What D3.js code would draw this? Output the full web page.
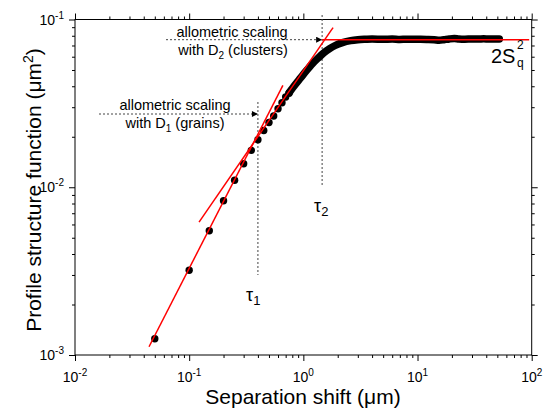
<!DOCTYPE html>
<html>
<head>
<meta charset="utf-8">
<script src="https://cdn.jsdelivr.net/npm/d3@7"></script>
<style>
  body { margin: 0; background: #fff; }
  text { font-family: "Liberation Sans", Arial, sans-serif; fill: #000; }
</style>
</head>
<body>
<div id="chart-area"></div>
<script>
// measured points (sparse dots)
var sepShift = [0.05, 0.10, 0.15, 0.20, 0.25, 0.30, 0.35, 0.40, 0.45, 0.50, 0.55, 0.60, 0.65, 0.70, 0.75];
var structFn = [0.00125, 0.0032, 0.0055, 0.0083, 0.0110, 0.0138, 0.0166, 0.0192, 0.0218, 0.0243, 0.0266, 0.0294, 0.0319, 0.0345, 0.0364];

// dense part (dots merge into a band)
var denseX = [0.75, 0.85, 0.95, 1.05, 1.2, 1.35, 1.5, 1.7, 1.9, 2.2, 2.6, 3.0, 3.5, 4, 5, 6, 7, 8, 10, 12, 14, 15.5, 17, 19, 21, 23, 26, 30, 34, 38, 42, 46, 50, 52];
var denseY = [0.0366, 0.041, 0.045, 0.049, 0.0545, 0.059, 0.063, 0.067, 0.0700, 0.0728, 0.0748, 0.0757, 0.0762, 0.0765, 0.0762, 0.0764, 0.0760, 0.0763, 0.0762, 0.0760, 0.0757, 0.0752, 0.0758, 0.0766, 0.0770, 0.0765, 0.0763, 0.0766, 0.0764, 0.0767, 0.0765, 0.0766, 0.0765, 0.0765];

// fitted red lines
var fit1X = [0.0445, 0.662], fit1Y = [0.00112, 0.0405];
var fit2X = [0.122, 1.82], fit2Y = [0.0062, 0.0895];
var fit3X = [1.46, 95], fit3Y = [0.0758, 0.0758];

var tau1 = 0.40, tau2 = 1.46;
var xDecades = [-2, -1, 0, 1, 2];
var yDecades = [-3, -2, -1];

var width = 544, height = 409;
var plotL = 75, plotR = 531.7, plotT = 19.5, plotB = 355;

var svg = d3.select("#chart-area").append("svg")
	.attr("width", width)
	.attr("height", height);

var x = d3.scaleLog().domain([0.01, 100]).range([plotL, plotR]);
var y = d3.scaleLog().domain([0.001, 0.1]).range([plotB, plotT]);

svg.append("defs").append("marker")
	.attr("id", "arr")
	.attr("viewBox", "0 0 10 10")
	.attr("refX", 10).attr("refY", 5)
	.attr("markerWidth", 10).attr("markerHeight", 6)
	.attr("markerUnits", "userSpaceOnUse")
	.attr("orient", "auto")
	.append("path").attr("d", "M0,0 L10,5 L0,10 z").attr("fill", "#000");

// minor + major ticks
var minorX = [], minorY = [];
xDecades.slice(0, -1).forEach((e) => { for (var k = 2; k < 10; k++) minorX.push(k * Math.pow(10, e)); });
yDecades.slice(0, -1).forEach((e) => { for (var k = 2; k < 10; k++) minorY.push(k * Math.pow(10, e)); });
var majorX = xDecades.map((e) => Math.pow(10, e));
var majorY = yDecades.map((e) => Math.pow(10, e));

function axisG(axis, tr) {
	var g = svg.append("g").attr("transform", tr).call(axis);
	g.select(".domain").remove();
	g.selectAll("line").attr("stroke", "#000");
	return g;
}
[[d3.axisBottom, "translate(0," + plotB + ")", x, minorX, majorX],
 [d3.axisTop, "translate(0," + plotT + ")", x, minorX, majorX],
 [d3.axisLeft, "translate(" + plotL + ",0)", y, minorY, majorY],
 [d3.axisRight, "translate(" + plotR + ",0)", y, minorY, majorY]].forEach((a) => {
	axisG(a[0](a[2]).tickValues(a[3]).tickSize(3).tickFormat(""), a[1]);
	axisG(a[0](a[2]).tickValues(a[4]).tickSize(6).tickFormat(""), a[1]);
});

svg.append("rect")
	.attr("x", plotL).attr("y", plotT)
	.attr("width", plotR - plotL).attr("height", plotB - plotT)
	.attr("fill", "none").attr("stroke", "#000").attr("stroke-width", 1);

// tick labels
xDecades.forEach((e) => {
	var t = svg.append("text")
		.attr("x", x(Math.pow(10, e))).attr("y", 382)
		.attr("text-anchor", "middle").attr("font-size", "14px");
	t.append("tspan").text("10");
	t.append("tspan").attr("dy", -6).attr("font-size", "10px").text(e);
});
yDecades.forEach((e) => {
	var t = svg.append("text")
		.attr("x", 64).attr("y", y(Math.pow(10, e)) + 5)
		.attr("text-anchor", "end").attr("font-size", "14px");
	t.append("tspan").text("10");
	t.append("tspan").attr("dy", -6).attr("font-size", "10px").text(e);
});

// axis titles
svg.append("text")
	.attr("x", 303).attr("y", 404)
	.attr("text-anchor", "middle").attr("font-size", "21px")
	.text("Separation shift (\u03bcm)");

var yl = svg.append("text")
	.attr("transform", "translate(41,190) rotate(-90)")
	.attr("text-anchor", "middle").attr("font-size", "21px");
yl.append("tspan").text("Profile structure function (\u03bcm");
yl.append("tspan").attr("dy", -8).attr("font-size", "14px").text("2");
yl.append("tspan").attr("dy", 8).text(")");

// dashed guides
function dashed(x1, y1, x2, y2, arrow) {
	var l = svg.append("line")
		.attr("x1", x1).attr("y1", y1).attr("x2", x2).attr("y2", y2)
		.attr("stroke", "#444").attr("stroke-width", 1)
		.attr("stroke-dasharray", "2,2");
	if (arrow) l.attr("marker-end", "url(#arr)");
}
dashed(x(tau1), 102, x(tau1), 275, false);
dashed(x(tau2), 15, x(tau2), 185, false);
dashed(99, 114, x(tau1), 114, true);
dashed(166, y(fit3Y[0]), x(tau2), y(fit3Y[0]), true);

// data band + dots
var line = d3.line()
	.x((d) => x(d[0]))
	.y((d) => y(d[1]))
	.curve(d3.curveMonotoneX);

svg.append("path")
	.datum(denseX.map((d, i) => [d, denseY[i]]))
	.attr("d", line)
	.attr("fill", "none").attr("stroke", "#000")
	.attr("stroke-width", 7.5)
	.attr("stroke-linecap", "round").attr("stroke-linejoin", "round");

svg.selectAll("circle.pt").data(sepShift).enter()
	.append("circle")
	.attr("class", "pt")
	.attr("cx", (d) => x(d))
	.attr("cy", (d, i) => y(structFn[i]))
	.attr("r", 3.7)
	.attr("fill", "#000");

// red fits
[[fit1X, fit1Y], [fit2X, fit2Y], [fit3X, fit3Y]].forEach((f) => {
	svg.append("path")
		.datum(f[0].map((d, i) => [d, f[1][i]]))
		.attr("d", d3.line().x((d) => x(d[0])).y((d) => y(d[1])))
		.attr("fill", "none").attr("stroke", "#ff0000").attr("stroke-width", 1.5);
});

// annotations
function sub(sel, main, s, rest) {
	sel.append("tspan").text(main);
	sel.append("tspan").attr("dy", 4).attr("font-size", "10px").text(s);
	sel.append("tspan").attr("dy", -4).text(rest);
}
svg.append("text").attr("x", 232).attr("y", 37).attr("text-anchor", "middle")
	.attr("font-size", "14.5px").text("allometric scaling");
sub(svg.append("text").attr("x", 233).attr("y", 55).attr("text-anchor", "middle").attr("font-size", "14.5px"),
	"with D", "2", " (clusters)");
svg.append("text").attr("x", 175).attr("y", 110).attr("text-anchor", "middle")
	.attr("font-size", "14.5px").text("allometric scaling");
sub(svg.append("text").attr("x", 175).attr("y", 128).attr("text-anchor", "middle").attr("font-size", "14.5px"),
	"with D", "1", " (grains)");

var t1 = svg.append("text").attr("x", 246).attr("y", 301).attr("font-size", "18px");
t1.append("tspan").text("\u03c4");
t1.append("tspan").attr("dy", 4).attr("font-size", "13px").text("1");
var t2 = svg.append("text").attr("x", 314).attr("y", 212).attr("font-size", "18px");
t2.append("tspan").text("\u03c4");
t2.append("tspan").attr("dy", 4).attr("font-size", "13px").text("2");

svg.append("text").attr("x", 491).attr("y", 63).attr("font-size", "20px").text("2S");
svg.append("text").attr("x", 517).attr("y", 49).attr("font-size", "12px").text("2");
svg.append("text").attr("x", 517).attr("y", 67).attr("font-size", "12px").text("q");
</script>
</body>
</html>
